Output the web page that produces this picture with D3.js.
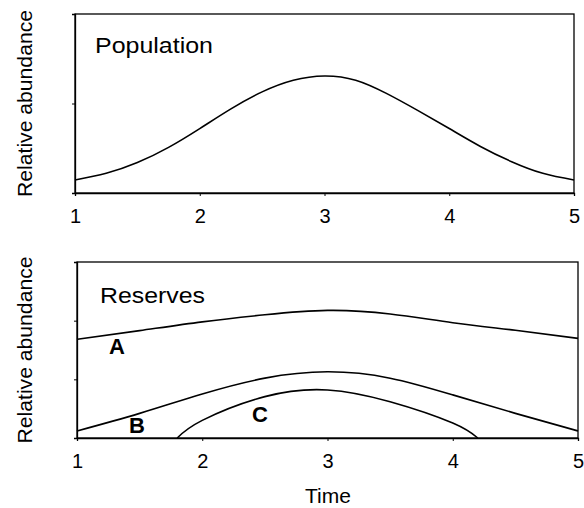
<!DOCTYPE html>
<html><head><meta charset="utf-8">
<script src="https://cdn.jsdelivr.net/npm/d3@7"></script>
<style>body{margin:0;background:#fff}svg{display:block}text{font-family:"Liberation Sans",Arial,sans-serif;fill:#000}</style>
</head><body><div id="chart"></div>
<script>
// ---- data ----
const timeTicks = [1, 2, 3, 4, 5];
const popTime = [1, 1.25, 1.5, 1.75, 2, 2.25, 2.5, 2.75, 3, 3.25, 3.5, 3.75, 4, 4.25, 4.5, 4.75, 5];
const popValues = [0.073, 0.11, 0.17, 0.255, 0.36, 0.47, 0.565, 0.63, 0.654, 0.63, 0.555, 0.46, 0.36, 0.26, 0.175, 0.11, 0.073];
const topYTicks = [0, 0.5, 1];
const bottomYTicks = [0, 1/3, 2/3, 1];
const resATime = [1, 1.5, 2, 2.5, 3, 3.5, 4, 4.5, 5];
const resAValues = [0.561, 0.61, 0.66, 0.70, 0.725, 0.705, 0.655, 0.612, 0.566];
const resBTime = [1, 1.5, 2, 2.5, 3, 3.5, 4, 4.5, 5];
const resBValues = [0.04, 0.14, 0.25, 0.34, 0.376, 0.34, 0.245, 0.14, 0.04];
const resCTime = [1.8, 2, 2.5, 3, 3.5, 4, 4.2];
const resCValues = [0, 0.10, 0.235, 0.273, 0.206, 0.085, 0];
const panelTitles = ["Population", "Reserves"];
const seriesLabels = ["A", "B", "C"];
const yTitle = "Relative abundance";
const xTitle = "Time";

const W = 584, H = 508;
const svg = d3.select("#chart").append("svg").attr("width", W).attr("height", H);

function panel(cfg) {
  const x = d3.scaleLinear().domain([1, 5]).range([cfg.x0, cfg.x1]);
  const y = d3.scaleLinear().domain([0, 1]).range([cfg.y1, cfg.y0]);
  const g = svg.append("g");
  g.append("rect").attr("x", cfg.x0).attr("y", cfg.y0)
    .attr("width", cfg.x1 - cfg.x0).attr("height", cfg.y1 - cfg.y0)
    .attr("fill", "none").attr("stroke", "#000").attr("stroke-width", 1.3);
  const xa = g.append("g").attr("transform", `translate(0,${cfg.y1})`)
    .call(d3.axisBottom(x).tickValues(timeTicks).tickFormat(d3.format("d")).tickSize(3).tickPadding(13));
  xa.select(".domain").attr("stroke-width", 1.3);
  xa.selectAll("text").style("font-size", "20px");
  const ya = g.append("g").attr("transform", `translate(${cfg.x0},0)`)
    .call(d3.axisLeft(y).tickValues(cfg.yTicks).tickFormat("").tickSize(3));
  ya.select(".domain").attr("stroke-width", 1.3);
  const line = d3.line().x(d => x(d[0])).y(d => y(d[1])).curve(d3.curveNatural);
  cfg.series.forEach(s => {
    g.append("path").datum(d3.zip(s.t, s.v)).attr("d", line)
      .attr("fill", "none").attr("stroke", "#000").attr("stroke-width", 1.6);
  });
  g.append("text").attr("transform", `translate(32,${(cfg.y0 + cfg.y1) / 2}) rotate(-90)`)
    .attr("text-anchor", "middle").style("font-size", "21px")
    .attr("textLength", 187).attr("lengthAdjust", "spacingAndGlyphs").text(yTitle);
  return {x, y, g};
}

const topPanel = panel({x0: 75, x1: 574, y0: 14, y1: 193, yTicks: topYTicks,
  series: [{t: popTime, v: popValues}]});
topPanel.g.append("text").attr("x", 95).attr("y", 53).style("font-size", "22px")
  .attr("textLength", 118).attr("lengthAdjust", "spacingAndGlyphs").text(panelTitles[0]);

const botPanel = panel({x0: 77, x1: 578, y0: 262, y1: 438, yTicks: bottomYTicks,
  series: [{t: resATime, v: resAValues}, {t: resBTime, v: resBValues}, {t: resCTime, v: resCValues}]});
botPanel.g.append("text").attr("x", 100).attr("y", 303).style("font-size", "22px")
  .attr("textLength", 105).attr("lengthAdjust", "spacingAndGlyphs").text(panelTitles[1]);
const labelPos = [[109, 354], [129, 433], [252, 422]];
seriesLabels.forEach((l, i) => {
  botPanel.g.append("text").attr("x", labelPos[i][0]).attr("y", labelPos[i][1])
    .style("font-size", "22px").style("font-weight", "bold").text(l);
});
svg.append("text").attr("x", 328).attr("y", 503).attr("text-anchor", "middle")
  .style("font-size", "21px").text(xTitle);
</script></body></html>
